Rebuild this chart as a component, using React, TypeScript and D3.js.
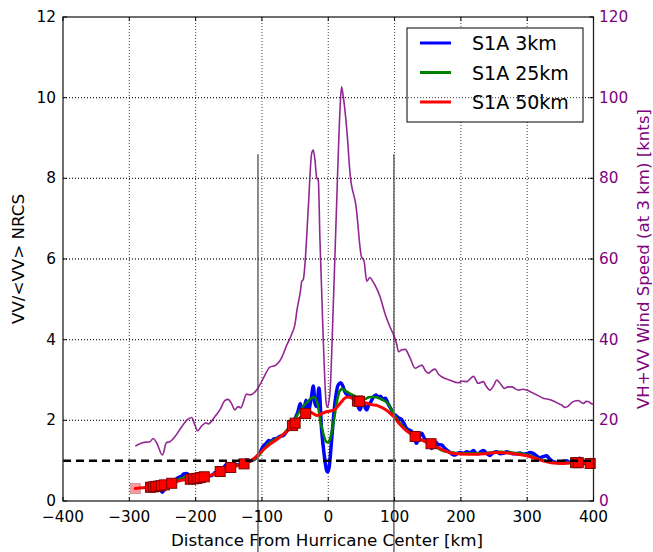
import React from "react";
import * as d3 from "d3";

// Radial profiles across the hurricane (distance in km)
const speedProfile: [number, number][] = [
  [-291, 13.6], [-279, 14.5], [-269, 14.7], [-264, 15.5], [-259, 14.5], [-250, 11.4], [-244, 14.5],
  [-239, 14.7], [-234, 15.4], [-221, 18.4], [-213, 20.1], [-206, 20.7], [-201, 18.8], [-197, 17.4],
  [-191, 18.6], [-184, 19.4], [-181, 19.1], [-171, 20.9], [-163, 22.7], [-156, 24.9], [-151, 25.2],
  [-146, 24.2], [-141, 22.6], [-136, 23.4], [-132, 23.1], [-123, 26.5], [-118, 26.3], [-108, 27.5],
  [-98, 30.4], [-88, 33.2], [-80, 33.6], [-70, 35.6], [-63, 38.5], [-55, 41.4], [-50, 44],
  [-47, 47.5], [-42, 52], [-40, 54.4], [-37.5, 55], [-35, 59], [-30, 73], [-25, 86.2], [-22.6, 87],
  [-20, 84.5], [-17.5, 80.2], [-15, 79.5], [-12.5, 64.7], [-7.5, 39.9], [-3.5, 25], [-1.5, 23.2],
  [2.5, 26.7], [7.5, 48], [12.5, 73], [15, 85.4], [18, 98], [20, 102.7], [22, 101], [28, 92],
  [33, 81], [42, 73], [50, 60.6], [54, 59.5], [58, 54.5], [63, 55.4], [67, 54.5], [70.5, 53.5],
  [78, 50.7], [85.5, 46.5], [93, 43.2], [99, 41], [103, 39], [106, 37], [111, 37.5], [116, 37.6],
  [123, 35.6], [131, 32.9], [137, 33.4], [141, 33.7], [147, 32.2], [151, 31.7], [156, 32.3],
  [161, 32.7], [166, 31.5], [171, 30.8], [183, 30], [196, 29.3], [202, 29.7], [209, 29.6],
  [214, 30.3], [219, 30.9], [226, 29.2], [234, 29.6], [238, 28.5], [244, 27.5], [250, 28.8],
  [254, 30], [259, 29.2], [266, 27.9], [271, 28.3], [277, 28.3], [282, 27.8], [287, 27.5],
  [293, 27.7], [299, 27.5], [306, 27], [312, 26.5], [318, 26], [324, 25.5], [330, 25.3],
  [337, 25], [342, 24.6], [347, 24.2], [352, 23.8], [357, 23.2], [362, 23.5], [367, 24.4],
  [372, 24.8], [377, 24.9], [381, 24.5], [385, 24.2], [389, 24.7], [393, 24.6], [397, 24.1], [400, 24],
];

const nrcs3km: [number, number][] = [
  [-262, 0.3], [-257, 0.33], [-253, 0.28], [-250, 0.22], [-247, 0.3], [-242, 0.38], [-236, 0.44],
  [-231, 0.52], [-226, 0.58], [-221, 0.62], [-218, 0.67], [-214, 0.68], [-210, 0.65], [-206, 0.58],
  [-201, 0.54], [-196, 0.52], [-191, 0.5], [-186, 0.56], [-181, 0.62], [-176, 0.63], [-171, 0.7],
  [-166, 0.73], [-161, 0.78], [-156, 0.86], [-152, 0.93], [-148, 0.9], [-143, 0.85], [-138, 0.9],
  [-133, 0.89], [-128, 0.96], [-123, 1.02], [-118, 1.0], [-113, 1.02], [-108, 1.08], [-103, 1.2],
  [-98, 1.36], [-94, 1.42], [-90, 1.5], [-86, 1.48], [-82, 1.54], [-78, 1.55], [-73, 1.6],
  [-68, 1.62], [-63, 1.72], [-58, 1.82], [-54, 1.88], [-50, 2.05], [-46, 2.2], [-42, 2.42],
  [-39, 2.17], [-36, 2.3], [-33.5, 2.5], [-30, 2.26], [-26, 2.5], [-22.5, 2.85], [-20, 2.42],
  [-17.5, 2.34], [-14, 2.8], [-10, 1.76], [-6.5, 1.2], [-3, 0.8], [-1, 0.72], [1.5, 0.85],
  [5, 1.5], [10, 2.42], [15, 2.88], [19, 2.93], [22, 2.85], [25, 2.71], [30, 2.62], [35, 2.6],
  [39, 2.52], [43, 2.46], [46, 2.3], [48, 2.26], [51, 2.42], [53, 2.46], [56, 2.3], [58, 2.26],
  [61, 2.38], [64, 2.45], [68, 2.58], [72, 2.63], [76, 2.57], [79, 2.6], [82, 2.52], [86, 2.55],
  [90, 2.42], [94, 2.3], [98, 2.17], [102, 2.12], [106, 2.06], [110, 2.03], [114, 1.93], [118, 1.8],
  [122, 1.76], [126, 1.72], [130, 1.55], [133, 1.43], [137, 1.58], [141, 1.68], [145, 1.55],
  [148, 1.51], [152, 1.42], [156, 1.3], [159, 1.42], [162, 1.46], [166, 1.4], [171, 1.39],
  [176, 1.3], [180, 1.25], [184, 1.2], [188, 1.15], [191, 1.14], [195, 1.18], [199, 1.2],
  [204, 1.18], [209, 1.22], [214, 1.19], [219, 1.25], [222, 1.2], [226, 1.17], [230, 1.22],
  [234, 1.25], [239, 1.18], [244, 1.13], [249, 1.2], [254, 1.22], [259, 1.17], [264, 1.18],
  [269, 1.22], [274, 1.2], [279, 1.17], [284, 1.17], [289, 1.19], [294, 1.16], [299, 1.17],
  [304, 1.2], [309, 1.18], [314, 1.12], [319, 1.07], [324, 1.1], [329, 1.12], [334, 1.04],
  [339, 0.98], [344, 0.96], [349, 0.95], [354, 0.98], [359, 1.0], [364, 0.96], [369, 0.98],
  [374, 1.0], [379, 1.06], [383, 1.0], [387, 0.93], [391, 0.98], [394.6, 1.03], [397, 0.99], [400, 1.0],
];

const nrcs25km: [number, number][] = [
  [-262, 0.32], [-250, 0.36], [-240, 0.42], [-230, 0.5], [-220, 0.57], [-210, 0.6], [-200, 0.58],
  [-190, 0.58], [-180, 0.63], [-170, 0.68], [-160, 0.76], [-150, 0.84], [-140, 0.87], [-130, 0.92],
  [-120, 0.97], [-110, 1.05], [-100, 1.22], [-90, 1.42], [-80, 1.53], [-70, 1.62], [-60, 1.8],
  [-50, 2.05], [-40, 2.3], [-32, 2.45], [-25, 2.55], [-21, 2.58], [-16, 2.4], [-12, 2.0], [-8, 1.7],
  [-3, 1.47], [0, 1.45], [4, 1.62], [8, 1.95], [12.5, 2.42], [17, 2.72], [21, 2.78], [27, 2.72],
  [33, 2.66], [40, 2.6], [48, 2.5], [55, 2.52], [63, 2.58], [70, 2.58], [78, 2.54], [85, 2.48],
  [91, 2.4], [98, 2.18], [104, 2.02], [110, 1.9], [118, 1.76], [125, 1.66], [131, 1.6], [140, 1.52],
  [148, 1.47], [156, 1.39], [163, 1.33], [171, 1.26], [179, 1.22], [189, 1.2], [199, 1.18],
  [214, 1.18], [229, 1.18], [244, 1.2], [259, 1.22], [274, 1.2], [289, 1.18], [302, 1.14],
  [314, 1.06], [326, 1.0], [339, 0.95], [354, 0.94], [369, 0.95], [385, 0.95], [400, 0.95],
];

const nrcs50km: [number, number][] = [
  [-291, 0.31], [-280, 0.33], [-270, 0.34], [-260, 0.36], [-250, 0.39], [-240, 0.42], [-234, 0.45],
  [-225, 0.5], [-215, 0.53], [-205, 0.55], [-195, 0.57], [-185, 0.6], [-175, 0.65], [-163, 0.73],
  [-155, 0.78], [-147, 0.83], [-137, 0.87], [-127, 0.92], [-118, 0.98], [-110, 1.08], [-100, 1.24],
  [-90, 1.38], [-80, 1.5], [-70, 1.62], [-60, 1.76], [-53, 1.88], [-45, 2.02], [-38, 2.14],
  [-33, 2.18], [-27, 2.2], [-22, 2.16], [-17, 2.12], [-12, 2.15], [-5, 2.2], [3, 2.23], [10, 2.27],
  [15, 2.36], [20, 2.46], [25, 2.55], [30, 2.58], [36, 2.55], [45, 2.48], [55, 2.44], [65, 2.39],
  [75, 2.36], [85, 2.28], [93, 2.18], [100, 2.07], [108, 1.9], [118, 1.74], [125, 1.66], [131, 1.6],
  [140, 1.52], [148, 1.46], [155, 1.42], [165, 1.33], [175, 1.25], [185, 1.19], [195, 1.17],
  [210, 1.16], [225, 1.16], [240, 1.18], [255, 1.2], [270, 1.19], [285, 1.16], [300, 1.12],
  [315, 1.04], [330, 0.97], [340, 0.94], [355, 0.93], [370, 0.95], [385, 0.94], [400, 0.92],
];

// Sample locations marked on the 50 km profile
const markers: [number, number][] = [
  [-291, 0.31], [-268, 0.34], [-264, 0.35], [-260, 0.36], [-256, 0.37], [-252, 0.38], [-247, 0.4],
  [-236, 0.44], [-208, 0.54], [-203, 0.55], [-198, 0.56], [-193, 0.58], [-187, 0.6], [-163, 0.73],
  [-147, 0.83], [-127, 0.92], [-54, 1.87], [-50, 1.93], [-34, 2.17], [44, 2.48], [47, 2.47],
  [131, 1.6], [155, 1.42], [373, 0.95], [377, 0.95], [395, 0.93],
];

const radiusMarks = [-106, 99];
const xTicks = [-400, -300, -200, -100, 0, 100, 200, 300, 400];
const yLeftTicks = [0, 2, 4, 6, 8, 10, 12];
const yRightTicks = [0, 20, 40, 60, 80, 100, 120];

const seriesNames = ["S1A 3km", "S1A 25km", "S1A 50km"];
const seriesColors = ["#0000ff", "#008000", "#ff0000"];

const W = 653;
const H = 552;
const M = { left: 63, top: 17, right: 593.5, bottom: 501 };
const FONT = "'DejaVu Sans', sans-serif";
const PURPLE = "#800080";

export default function App() {
  const x = d3.scaleLinear().domain([-400, 400]).range([M.left, M.right]);
  const y = d3.scaleLinear().domain([0, 12]).range([M.bottom, M.top]);
  const y2 = d3.scaleLinear().domain([0, 120]).range([M.bottom, M.top]);

  const smooth = d3
    .line<[number, number]>()
    .x((d) => x(d[0]))
    .y((d) => y(d[1]))
    .curve(d3.curveMonotoneX);
  const speedLine = d3
    .line<[number, number]>()
    .x((d) => x(d[0]))
    .y((d) => y2(d[1]))
    .curve(d3.curveMonotoneX);

  const fmt = (v: number) => (v < 0 ? "\u2212" + Math.abs(v) : String(v));
  const ms = 10;

  return (
    <svg
      width={W}
      height={H}
      style={{ position: "absolute", left: 0, top: 0, background: "#fff" }}
      fontFamily={FONT}
    >
      <defs>
        <clipPath id="plotArea">
          <rect x={M.left} y={M.top} width={M.right - M.left} height={M.bottom - M.top} />
        </clipPath>
      </defs>

      {/* grid */}
      <g stroke="#000" strokeWidth={1} strokeDasharray="1,2" opacity={0.75}>
        {xTicks.slice(1, -1).map((t) => (
          <line key={"gx" + t} x1={x(t)} x2={x(t)} y1={M.top} y2={M.bottom} />
        ))}
        {yLeftTicks.slice(1, -1).map((t) => (
          <line key={"gy" + t} x1={M.left} x2={M.right} y1={y(t)} y2={y(t)} />
        ))}
      </g>

      {/* NRCS profiles */}
      <g clipPath="url(#plotArea)" fill="none" strokeLinejoin="round" strokeLinecap="round">
        <path d={smooth(nrcs3km) ?? ""} stroke={seriesColors[0]} strokeWidth={3.5} />
        <path d={smooth(nrcs25km) ?? ""} stroke={seriesColors[1]} strokeWidth={2.6} />
        <path d={smooth(nrcs50km) ?? ""} stroke={seriesColors[2]} strokeWidth={3} />
      </g>

      {/* sample markers */}
      <g>
        {markers.map((d, i) => (
          <rect
            key={"m" + i}
            x={x(d[0]) - ms / 2}
            y={y(d[1]) - ms / 2}
            width={ms}
            height={ms}
            fill="#ff0000"
            stroke="#7a0000"
            strokeWidth={1}
            opacity={i === 0 ? 0.4 : 1}
          />
        ))}
      </g>

      {/* reference level */}
      <line
        x1={M.left}
        x2={M.right}
        y1={y(1)}
        y2={y(1)}
        stroke="#000"
        strokeWidth={2.5}
        strokeDasharray="8,5"
      />

      {/* radius markers */}
      {radiusMarks.map((r) => (
        <line
          key={"r" + r}
          x1={x(r)}
          x2={x(r)}
          y1={y(8.6)}
          y2={H}
          stroke="#6e6e6e"
          strokeWidth={1.6}
        />
      ))}

      {/* legend */}
      <g>
        <rect x={407} y={28} width={176} height={94} fill="#fff" stroke="#000" strokeWidth={1} />
        {seriesNames.map((name, i) => (
          <g key={name}>
            <line
              x1={420}
              x2={451}
              y1={43 + i * 29.5}
              y2={43 + i * 29.5}
              stroke={seriesColors[i]}
              strokeWidth={3}
            />
            <text x={472} y={43 + i * 29.5 + 7} fontSize={19} fill="#000">
              {name}
            </text>
          </g>
        ))}
      </g>

      {/* secondary-axis horizontal grid */}
      <g stroke="#000" strokeWidth={1} strokeDasharray="1,2" opacity={0.75}>
        {yRightTicks.slice(1, -1).map((t) => (
          <line key={"g2" + t} x1={M.left} x2={M.right} y1={y2(t)} y2={y2(t)} />
        ))}
      </g>

      {/* wind speed */}
      <path
        d={speedLine(speedProfile) ?? ""}
        fill="none"
        stroke={PURPLE}
        strokeOpacity={0.85}
        strokeWidth={1.6}
        strokeLinejoin="round"
        clipPath="url(#plotArea)"
      />

      {/* frame */}
      <rect
        x={M.left}
        y={M.top}
        width={M.right - M.left}
        height={M.bottom - M.top}
        fill="none"
        stroke="#222"
        strokeWidth={1.3}
      />

      {/* x axis */}
      <g>
        {xTicks.map((t) => (
          <g key={"xt" + t}>
            <line x1={x(t)} x2={x(t)} y1={M.bottom} y2={M.bottom - 4} stroke="#000" />
            <line x1={x(t)} x2={x(t)} y1={M.top} y2={M.top + 4} stroke="#000" />
            <text x={x(t)} y={521.5} fontSize={15.3} textAnchor="middle" fill="#000">
              {fmt(t)}
            </text>
          </g>
        ))}
        <text x={327} y={546} fontSize={16.7} textAnchor="middle" fill="#000">
          Distance From Hurricane Center [km]
        </text>
      </g>

      {/* left y axis */}
      <g>
        {yLeftTicks.map((t) => (
          <g key={"yl" + t}>
            <line x1={M.left} x2={M.left + 4} y1={y(t)} y2={y(t)} stroke="#000" />
            <text x={56} y={y(t) + 5} fontSize={15.3} textAnchor="end" fill="#000">
              {t}
            </text>
          </g>
        ))}
        <text
          transform={`translate(24, ${(M.top + M.bottom) / 2}) rotate(-90)`}
          fontSize={16.7}
          textAnchor="middle"
          fill="#000"
        >
          VV/&lt;VV&gt; NRCS
        </text>
      </g>

      {/* right y axis */}
      <g>
        {yRightTicks.map((t) => (
          <g key={"yr" + t}>
            <line x1={M.right} x2={M.right - 4} y1={y2(t)} y2={y2(t)} stroke="#000" />
            <text x={599} y={y2(t) + 5} fontSize={15.3} textAnchor="start" fill={PURPLE}>
              {t}
            </text>
          </g>
        ))}
        <text
          transform={`translate(649, ${(M.top + M.bottom) / 2}) rotate(-90)`}
          fontSize={16.6}
          textAnchor="middle"
          fill={PURPLE}
        >
          VH+VV Wind Speed (at 3 km) [knts]
        </text>
      </g>
    </svg>
  );
}
